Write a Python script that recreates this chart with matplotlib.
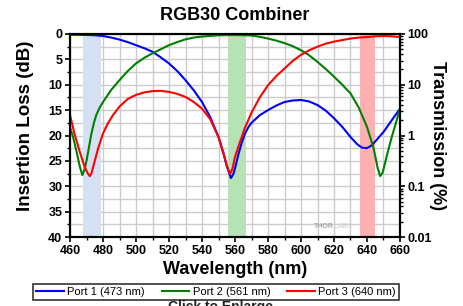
import matplotlib
matplotlib.use('agg')
import matplotlib.pyplot as plt
from matplotlib.ticker import MultipleLocator, FixedLocator, FixedFormatter, LogLocator, NullFormatter

plt.rcParams['font.family'] = ['Liberation Sans', 'DejaVu Sans']

# Port 1 (473 nm) insertion loss, dB
wl_p1 = [460, 465, 470, 475, 480, 485, 490, 495, 500, 505, 510, 515, 520, 525, 530, 535, 540, 545, 550,
         553, 555, 557.5, 559, 560, 562, 564, 566, 568, 570, 575, 580, 585, 590, 595, 600, 605, 610, 615,
         620, 625, 630, 634, 637, 640, 643, 646, 650, 655, 660]
il_p1 = [0.15, 0.15, 0.2, 0.25, 0.4, 0.7, 1.1, 1.6, 2.2, 2.8, 3.5, 4.6, 5.8, 7.3, 9.1, 11.1, 13.4, 16.4, 20.3,
         23.5, 26.0, 28.4, 27.6, 26.5, 23.8, 21.5, 19.7, 18.4, 17.5, 16.0, 15.0, 14.1, 13.4, 13.1, 13.0, 13.3, 14.0, 15.1,
         16.6, 18.3, 20.3, 21.7, 22.4, 22.5, 21.9, 20.8, 19.3, 17.0, 14.7]

# Port 2 (561 nm)
wl_p2 = [460, 462, 464, 466, 467.5, 469, 470, 471.5, 473, 474.5, 476, 478, 480, 485, 490, 495, 500, 505,
         510, 515, 520, 525, 530, 535, 540, 550, 560, 570, 575, 580, 585, 590, 595, 600, 605, 610, 615,
         620, 625, 630, 635, 640, 644, 646.5, 648, 649.5, 652, 655, 658, 660]
il_p2 = [18.3, 20.5, 23.2, 26.2, 27.8, 26.5, 25.0, 22.3, 19.6, 17.5, 15.9, 14.5, 13.4, 11.0, 9.1, 7.3, 5.8, 4.7,
         3.8, 3.0, 2.2, 1.6, 1.05, 0.7, 0.5, 0.26, 0.2, 0.3, 0.55, 0.9, 1.3, 1.8, 2.4, 3.2, 4.2, 5.5, 6.9,
         8.4, 10.0, 11.7, 14.5, 18.3, 22.5, 26.5, 28.0, 27.3, 24.0, 20.3, 17.0, 14.7]

# Port 3 (640 nm)
wl_p3 = [460, 463, 466, 469, 471, 472, 473, 475, 477, 480, 483, 486, 490, 495, 500, 505, 510, 515, 520,
         525, 530, 535, 540, 545, 550, 553, 555, 557, 558.5, 560, 563, 566, 570, 575, 580, 585, 590, 595,
         600, 605, 610, 615, 620, 625, 630, 635, 640, 645, 650, 655, 660]
il_p3 = [16.0, 20.0, 23.3, 26.3, 27.6, 28.0, 27.5, 25.0, 22.6, 19.6, 17.6, 16.0, 14.3, 12.8, 12.0, 11.5, 11.25, 11.2, 11.4,
         11.8, 12.4, 13.4, 14.7, 16.8, 20.3, 23.5, 25.9, 27.6, 26.5, 24.2, 21.3, 18.5, 15.5, 12.5, 10.1, 8.3, 6.8, 5.3,
         4.1, 3.2, 2.5, 1.9, 1.5, 1.2, 0.9, 0.7, 0.6, 0.45, 0.4, 0.45, 0.6]

bands = [(468, 478.6, '#d6e0f3'), (556, 566.5, '#b6e2b6'), (635.8, 645, '#ffb0b0')]

fig = plt.figure(figsize=(4.63, 3.06), dpi=100)
ax = fig.add_axes([70/463, 1-237/306, 330/463, 203/306])

for x0, x1, c in bands:
    ax.axvspan(x0, x1, color=c, zorder=1.5, lw=0)

ax.plot(wl_p1, il_p1, color='#0000ff', lw=1.5, label='Port 1 (473 nm)', zorder=3)
ax.plot(wl_p2, il_p2, color='#008000', lw=1.5, label='Port 2 (561 nm)', zorder=3)
ax.plot(wl_p3, il_p3, color='#ff0000', lw=1.5, label='Port 3 (640 nm)', zorder=3)

ax.set_xlim(460, 660)
ax.set_ylim(40, 0)
ax.xaxis.set_major_locator(MultipleLocator(20))
ax.xaxis.set_minor_locator(MultipleLocator(10))
ax.yaxis.set_major_locator(MultipleLocator(5))
ax.yaxis.set_minor_locator(MultipleLocator(2.5))
ax.grid(True, which='both', color='#cccccc', lw=1, zorder=1)
ax.set_axisbelow(True)
ax.tick_params(which='major', direction='out', length=3.5, width=1.2, labelsize=9, pad=2)
ax.tick_params(which='minor', direction='out', length=2, width=1)
for lbl in ax.get_xticklabels() + ax.get_yticklabels():
    lbl.set_fontweight('bold')

ax.set_xlabel('Wavelength (nm)', fontsize=13, fontweight='bold')
ax.xaxis.set_label_coords(0.5, -0.12)
ax.set_ylabel('Insertion Loss (dB)', fontsize=13.5, fontweight='bold')
ax.yaxis.set_label_coords(-0.11, 0.55)

ax2 = ax.twinx()
ax2.set_yscale('log')
ax2.set_ylim(0.01, 100)
ax2.yaxis.set_major_locator(FixedLocator([0.01, 0.1, 1, 10, 100]))
ax2.yaxis.set_major_formatter(FixedFormatter(['0.01', '0.1', '1', '10', '100']))
ax2.yaxis.set_minor_locator(LogLocator(base=10, subs=range(2, 10)))
ax2.yaxis.set_minor_formatter(NullFormatter())
ax2.tick_params(which='major', direction='out', length=3.5, width=1.2, labelsize=9, pad=2)
ax2.tick_params(which='minor', direction='out', length=2, width=1)
for lbl in ax2.get_yticklabels():
    lbl.set_fontweight('bold')
ax2.set_ylabel('Transmission (%)', fontsize=13, fontweight='bold', rotation=270, va='center')
ax2.yaxis.set_label_coords(1.115, 0.5)

for a in (ax, ax2):
    for s in a.spines.values():
        s.set_linewidth(1.5)

ax.text(0.8, 0.05, 'THOR', transform=ax.transAxes, fontsize=5, fontweight='bold',
        color='#a8a8a8', ha='right', va='center', zorder=2)
ax.text(0.8, 0.05, 'LABS', transform=ax.transAxes, fontsize=5, fontweight='bold',
        color='#d8d8d8', ha='left', va='center', zorder=2)

fig.text(235/463, 1-16/306, 'RGB30 Combiner', fontsize=13, fontweight='bold', ha='center', va='center')

leg = fig.legend(loc='center', bbox_to_anchor=(216/463, 1-292/306), ncol=3, fontsize=8,
                 frameon=True, fancybox=False, edgecolor='black', handlelength=2.5,
                 handletextpad=0.3, columnspacing=1.5, borderpad=0.3, borderaxespad=0)
leg.get_frame().set_linewidth(1.2)

fig.text(220/463, 1-300/306, 'Click to Enlarge', fontsize=10, fontweight='bold', ha='center', va='top',
         color='#222222')

fig.savefig('out.png', dpi=100)
